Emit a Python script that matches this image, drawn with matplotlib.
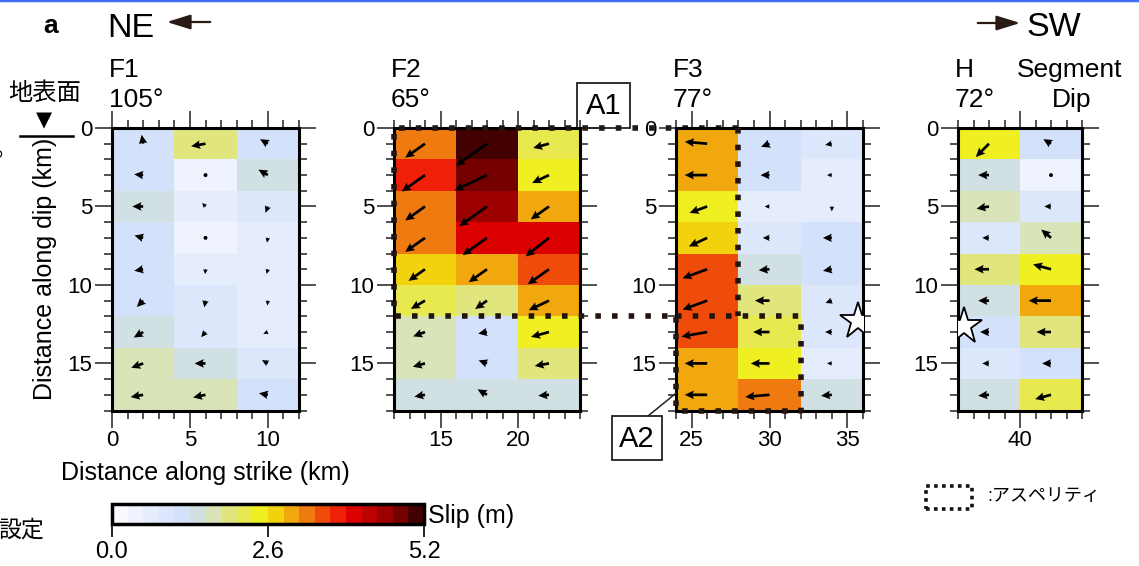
import numpy as np
import matplotlib
matplotlib.use('Agg')
import matplotlib.pyplot as plt
from matplotlib.colors import ListedColormap, BoundaryNorm
from matplotlib.patches import ConnectionPatch, Rectangle, FancyArrowPatch
from matplotlib.lines import Line2D

plt.rcParams['font.family'] = ['Liberation Sans', 'Noto Sans CJK JP', 'DejaVu Sans']

# slip (m) of each 4 km x 2 km subfault, rows from the surface downward
F1_SLIP = [[1.2, 1.95, 1.2],
           [1.2, 0.4, 1.45],
           [1.45, 0.65, 0.9],
           [1.2, 0.4, 0.65],
           [1.2, 0.65, 0.65],
           [1.2, 0.9, 0.65],
           [1.45, 0.9, 0.65],
           [1.7, 1.45, 0.9],
           [1.7, 1.7, 1.2]]
# direction of the slip arrow on the page (deg, ccw from +strike)
F1_RAKE = [[100, 190, 150],
           [175, 135, 150],
           [180, 135, 250],
           [165, 180, 260],
           [190, 265, 255],
           [225, 260, 265],
           [210, 230, 200],
           [200, 180, 150],
           [190, 192, 170]]

F2_SLIP = [[3.25, 5.1, 2.2],
           [3.8, 4.8, 2.5],
           [3.25, 4.55, 3.0],
           [3.25, 4.0, 4.0],
           [2.7, 3.0, 3.5],
           [2.2, 1.95, 3.0],
           [1.7, 1.2, 2.5],
           [1.7, 1.2, 1.95],
           [1.45, 1.45, 1.45]]
F2_RAKE = [[215, 215, 195],
           [215, 205, 205],
           [215, 215, 215],
           [215, 215, 218],
           [215, 215, 215],
           [210, 215, 205],
           [200, 190, 195],
           [195, 160, 190],
           [190, 150, 185]]

F3_SLIP = [[3.0, 1.2, 0.9],
           [3.0, 1.2, 0.65],
           [2.5, 0.65, 0.65],
           [2.7, 0.9, 1.2],
           [3.5, 1.45, 1.2],
           [3.5, 1.95, 0.9],
           [3.5, 2.2, 0.9],
           [3.0, 2.5, 0.65],
           [3.0, 3.25, 1.45]]
F3_RAKE = [[175, 200, 190],
           [180, 180, 180],
           [200, 180, 270],
           [205, 180, 180],
           [200, 185, 190],
           [200, 180, 200],
           [190, 180, 180],
           [180, 180, 180],
           [180, 185, 185]]

H_SLIP = [[2.5, 1.2],
          [1.45, 0.4],
          [1.7, 0.9],
          [0.9, 1.7],
          [1.95, 2.5],
          [1.45, 3.0],
          [1.2, 1.95],
          [0.9, 1.2],
          [1.45, 2.2]]
H_RAKE = [[225, 150],
          [180, 135],
          [190, 180],
          [180, 140],
          [180, 165],
          [180, 180],
          [180, 180],
          [180, 180],
          [185, 195]]

PANEL_NAMES = ['F1', 'F2', 'F3', 'H']
PANEL_DIPS = ['105°', '65°', '77°', '72°']
PANEL_X0 = [0, 12, 24, 36]          # km along strike where each segment starts
HYPO_F3 = (35.7, 12.3)
HYPO_H = (36.4, 12.6)
A1_X, A1_DEPTH = (12, 28), (0, 12)
A2_X, A2_DEPTH = (24, 32), (12, 18)

SLIP_COLORS = ['#f8faff', '#eef3fe', '#e5edfc', '#dce7fb', '#d3e2fa',
               '#d0e0e3', '#d9e4b9', '#e1e57e', '#e8e94f', '#efef22',
               '#f1d20c', '#f0a80e', '#ef7a10', '#ef4c0c', '#ef2008',
               '#dc0000', '#bf0000', '#9c0000', '#740000', '#420000']
SLIP_MAX = 5.2
CB_TICKS = [0.0, 2.6, 5.2]

W, H = 1139, 566
fig = plt.figure(figsize=(W / 100, H / 100), dpi=100)


def fr(x, y):
    return x / W, 1 - y / H


cmap = ListedColormap(SLIP_COLORS)
norm = BoundaryNorm(np.linspace(0, SLIP_MAX, len(SLIP_COLORS) + 1), cmap.N)

TOP, BOT = 128, 410.5
ARROW_KM_PER_M = 0.48
BOX_C = '#221510'
DOTS = (0, (1.0, 2.0))


def add_panel(left, right, x0, slip, rake):
    ax = fig.add_axes([left / W, 1 - BOT / H, (right - left) / W, (BOT - TOP) / H])
    slip = np.asarray(slip, float)
    ang = np.radians(np.asarray(rake, float))
    nr, nc = slip.shape
    xe = x0 + 4 * np.arange(nc + 1)
    ye = 2 * np.arange(nr + 1)
    mesh = ax.pcolormesh(xe, ye, slip, cmap=cmap, norm=norm)
    X, Y = np.meshgrid((xe[:-1] + xe[1:]) / 2, (ye[:-1] + ye[1:]) / 2)
    L = slip * ARROW_KM_PER_M
    ax.quiver(X, Y, L * np.cos(ang), -L * np.sin(ang), angles='xy',
              scale_units='xy', scale=1, units='dots', width=2.7,
              headwidth=3.2, headlength=3.4, headaxislength=3.0,
              minlength=1.6, color='black', zorder=3)
    ax.set_xlim(xe[0], xe[-1])
    ax.set_ylim(ye[-1], ye[0])
    ax.set_xticks(np.arange(5 * np.ceil(xe[0] / 5), xe[-1] + 0.01, 5))
    ax.set_xticks(np.arange(xe[0], xe[-1] + 0.01, 1), minor=True)
    ax.set_yticks([0, 5, 10, 15])
    ax.set_yticks(np.arange(0, ye[-1] + 0.01, 1), minor=True)
    ax.xaxis.set_major_formatter('{x:.0f}')
    ax.tick_params(which='both', direction='out', top=True, right=True,
                   width=1.1, labelsize=16, pad=2, color='#222222')
    ax.tick_params(which='major', length=12)
    ax.tick_params(which='minor', length=6)
    for s in ax.spines.values():
        s.set_linewidth(2.2)
    return ax, mesh


ax1, mesh = add_panel(112, 299, PANEL_X0[0], F1_SLIP, F1_RAKE)
ax2, _ = add_panel(394, 580, PANEL_X0[1], F2_SLIP, F2_RAKE)
ax3, _ = add_panel(676, 863, PANEL_X0[2], F3_SLIP, F3_RAKE)
ax4, _ = add_panel(958, 1082, PANEL_X0[3], H_SLIP, H_RAKE)

ax1.set_ylabel('Distance along dip (km)', fontsize=18, labelpad=8)
ax1.set_xlabel('Distance along strike (km)', fontsize=18, labelpad=7)

# segment names and dips
for ax, left, name, dip in zip([ax1, ax2, ax3, ax4], [112, 394, 676, 958],
                               PANEL_NAMES, PANEL_DIPS):
    fig.text(*fr(left - 3, 77), name, fontsize=19, va='baseline', ha='left')
    fig.text(*fr(left - 3, 107), dip, fontsize=19, va='baseline', ha='left')
fig.text(*fr(1070, 77), 'Segment', fontsize=19, va='baseline', ha='center')
fig.text(*fr(1072, 107), 'Dip', fontsize=19, va='baseline', ha='center')

# hypocentres
ax3.plot(*HYPO_F3, marker='*', ms=28, mfc='white', mec='black', mew=1.3, zorder=4)
ax4.plot(*HYPO_H, marker='*', ms=28, mfc='white', mec='black', mew=1.3, zorder=4)

# label boxes sit under the asperity dots
fig.add_artist(Rectangle(fr(577, 128), 53 / W, 45 / H, transform=fig.transFigure,
                         fc='white', ec='#222222', lw=1.3, zorder=-1))
fig.text(*fr(603.5, 106), 'A1', fontsize=21, ha='center', va='center', zorder=8)
fig.add_artist(Rectangle(fr(612, 460), 50 / W, 44 / H, transform=fig.transFigure,
                         fc='white', ec='#222222', lw=1.3, zorder=7))
fig.text(*fr(637, 439), 'A2', fontsize=21, ha='center', va='center', zorder=8)
fig.add_artist(ConnectionPatch(xyA=fr(648, 416), coordsA='figure fraction',
                               xyB=(24, 16.9), coordsB=ax3.transData,
                               color='#222222', lw=1.1, zorder=7))

# asperities: A1 spans F2 and F3, drawn in F2 data units continued into F3
dot = dict(color=BOX_C, lw=4, linestyle=DOTS, zorder=6, clip_on=False)
x_right = ax2.transData.inverted().transform(
    ax3.transData.transform((A1_X[1], 0)))[0]
ax2.plot([x_right, A1_X[0], A1_X[0], x_right],
         [A1_DEPTH[0], A1_DEPTH[0], A1_DEPTH[1], A1_DEPTH[1]], **dot)
ax3.plot([A1_X[1], A1_X[1]], list(A1_DEPTH), **dot)
ax3.plot([A2_X[0], A2_X[1], A2_X[1], A2_X[0], A2_X[0]],
         [A2_DEPTH[0], A2_DEPTH[0], A2_DEPTH[1], A2_DEPTH[1], A2_DEPTH[0]], **dot)

# header
fig.text(*fr(43, 33), 'a', fontsize=19, fontweight='bold', va='baseline')
fig.text(*fr(107, 37), 'NE', fontsize=24.5, va='baseline')
fig.text(*fr(1026, 36), 'SW', fontsize=24.5, va='baseline')
arw = dict(arrowstyle='-|>,head_length=0.9,head_width=0.28', mutation_scale=16,
           lw=1.6, color='#2a1a14', transform=fig.transFigure)
fig.add_artist(FancyArrowPatch(fr(213, 22), fr(164, 22), **arw))
fig.add_artist(FancyArrowPatch(fr(975, 23), fr(1023, 23), **arw))

# fragments at the left edge
fig.text(*fr(8, 100), '地表面', fontsize=17.5, va='baseline')
fig.text(*fr(44, 120), '▼', fontsize=15, ha='center', va='center',
         family=['DejaVu Sans'])
fig.add_artist(Line2D([20 / W, 73 / W], [1 - 136 / H] * 2, transform=fig.transFigure,
                      color='black', lw=1.8))
fig.text(*fr(-6, 156), '。', fontsize=17, va='baseline', family=['Noto Sans CJK JP'])
fig.text(*fr(-2, 530), '設定', fontsize=16.5, va='center')

# colour bar
cax = fig.add_axes([112 / W, 1 - 524 / H, 312 / W, 20 / H])
cb = fig.colorbar(mesh, cax=cax, orientation='horizontal', ticks=CB_TICKS)
cb.ax.xaxis.set_major_formatter('{x:.1f}')
cb.outline.set_linewidth(2.5)
cax.minorticks_off()
cax.tick_params(length=9, width=1.2, labelsize=17, pad=3)
cax.text(1.012, 0.4, 'Slip (m)', transform=cax.transAxes, fontsize=18,
         va='center', ha='left')

# asperity legend
fig.add_artist(Rectangle(fr(926, 509), 46 / W, 23 / H, transform=fig.transFigure,
                         fill=False, ec='#111111', lw=2.6, linestyle=(0, (1.0, 1.2))))
fig.text(*fr(987, 497), ':アスペリティ', fontsize=13, va='center', ha='left')

# slide border at the top
fig.add_artist(Line2D([0, 1], [1, 1], transform=fig.transFigure, color='#3d6ff2', lw=2.5))

fig.savefig('out.png', dpi=100)
